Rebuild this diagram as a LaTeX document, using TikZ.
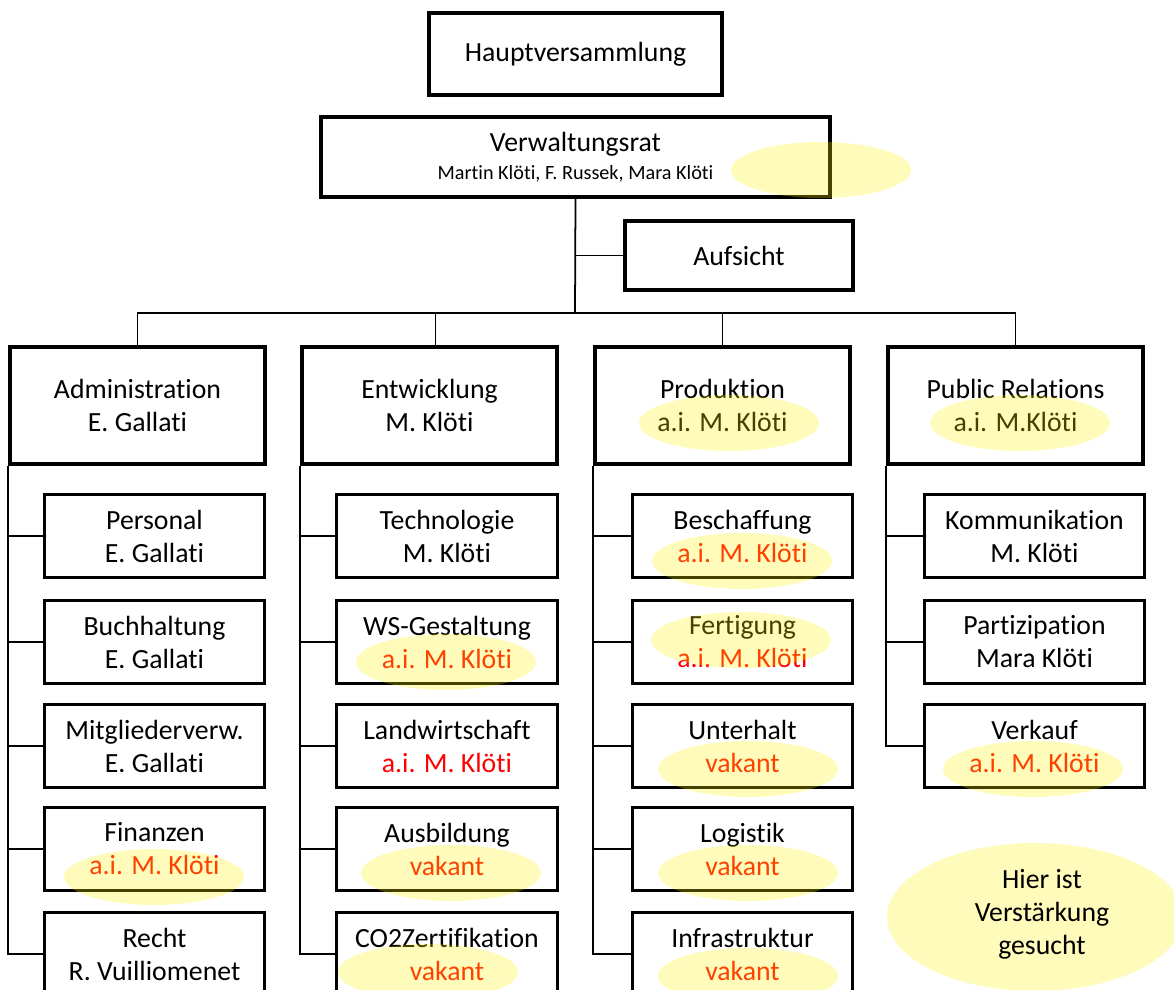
\documentclass[tikz,border=0pt]{standalone}
\usepackage{fontspec}
\setmainfont{Carlito}[Ligatures=NoCommon]
\usetikzlibrary{positioning,shapes.geometric,calc}

\begin{document}
\begin{tikzpicture}[
  x=0.02cm, y=-0.02cm,
  font=\fontsize{15.8}{18.8}\selectfont,
  board/.style={rectangle, draw=black, line width=2.2pt, align=center, inner sep=0pt},
  dept/.style={rectangle, draw=black, line width=2.2pt, minimum width=5.1cm, minimum height=2.34cm, align=center, inner sep=0pt},
  unit/.style={rectangle, draw=black, line width=1.7pt, minimum width=4.42cm, minimum height=1.66cm, align=center, inner sep=0pt},
  wire/.style={line width=1pt, black},
  hilite/.style={ellipse, fill=yellow, fill opacity=0.27, inner sep=0pt, minimum width=3.6cm, minimum height=1.12cm},
  open/.style={text=red}
]
\path[use as bounding box, clip] (0,0) rectangle (1174,990);

% Top
\node[board, minimum width=5.86cm, minimum height=1.64cm] (haupt) at (575.5,54) {Hauptversammlung};
\node[board, minimum width=10.18cm, minimum height=1.6cm] (vr) at (575.5,157)
  {Verwaltungsrat\\[-3pt]{\fontsize{11.5}{13}\selectfont Martin Klöti, F. Russek, Mara Klöti}};
\node[board, minimum width=4.56cm, minimum height=1.38cm] (aufsicht) at (739,255.5) {Aufsicht};

% Departments
\node[dept] (admin) at (137.5,405.5) {Administration\\E. Gallati};
\node[dept] (entw) at (429.5,405.5) {Entwicklung\\M. Klöti};
\node[dept] (prod) at (722.5,405.5) {Produktion\\a.i. M. Klöti};
\node[dept] (pr) at (1015.5,405.5) {Public Relations\\a.i. M.Klöti};

% Administration
\node[unit] (personal) at (154.5,536) {Personal\\E. Gallati};
\node[unit] (buch) at (154.5,642) {Buchhaltung\\E. Gallati};
\node[unit] (mitglied) at (154.5,746) {Mitgliederverw.\\E. Gallati};
\node[unit] (finanz) at (154.5,849) {Finanzen\\\textcolor{red}{a.i. M. Klöti}};
\node[unit] (recht) at (154.5,954) {Recht\\R. Vuilliomenet};

% Entwicklung
\node[unit] (tech) at (447,536) {Technologie\\M. Klöti};
\node[unit] (ws) at (447,642) {WS-Gestaltung\\\textcolor{red}{a.i. M. Klöti}};
\node[unit] (land) at (447,746) {Landwirtschaft\\\textcolor{red}{a.i. M. Klöti}};
\node[unit] (ausb) at (447,849) {Ausbildung\\\textcolor{red}{vakant}};
\node[unit] (co2) at (447,954) {CO2Zertifikation\\\textcolor{red}{vakant}};

% Produktion
\node[unit] (besch) at (742.5,536) {Beschaffung\\\textcolor{red}{a.i. M. Klöti}};
\node[unit] (fert) at (742.5,642) {Fertigung\\\textcolor{red}{a.i. M. Klöti}};
\node[unit] (unterh) at (742.5,746) {Unterhalt\\\textcolor{red}{vakant}};
\node[unit] (logi) at (742.5,849) {Logistik\\\textcolor{red}{vakant}};
\node[unit] (infra) at (742.5,954) {Infrastruktur\\\textcolor{red}{vakant}};

% Public Relations
\node[unit] (komm) at (1034.5,536) {Kommunikation\\M. Klöti};
\node[unit] (parti) at (1034.5,642) {Partizipation\\Mara Klöti};
\node[unit] (verk) at (1034.5,746) {Verkauf\\\textcolor{red}{a.i. M. Klöti}};

% Lines
\coordinate (bus) at (575,313);
\draw[wire] (vr.south) -- (bus);
\draw[wire] (vr.south |- aufsicht.west) -- (aufsicht.west);
\draw[wire] (admin.north) -- (admin.north |- bus) -- (pr.north |- bus) -- (pr.north);
\draw[wire] ($(entw.north)+(6,0)$) -- ($(entw.north |- bus)+(6,0)$);
\draw[wire] (prod.north) -- (prod.north |- bus);

\draw[wire] (admin.south west) |- (recht.west);
\draw[wire] (admin.south west |- personal.west) -- (personal.west);
\draw[wire] (admin.south west |- buch.west) -- (buch.west);
\draw[wire] (admin.south west |- mitglied.west) -- (mitglied.west);
\draw[wire] (admin.south west |- finanz.west) -- (finanz.west);

\draw[wire] (entw.south west) |- (co2.west);
\draw[wire] (entw.south west |- tech.west) -- (tech.west);
\draw[wire] (entw.south west |- ws.west) -- (ws.west);
\draw[wire] (entw.south west |- land.west) -- (land.west);
\draw[wire] (entw.south west |- ausb.west) -- (ausb.west);

\draw[wire] (prod.south west) |- (infra.west);
\draw[wire] (prod.south west |- besch.west) -- (besch.west);
\draw[wire] (prod.south west |- fert.west) -- (fert.west);
\draw[wire] (prod.south west |- unterh.west) -- (unterh.west);
\draw[wire] (prod.south west |- logi.west) -- (logi.west);

\draw[wire] (pr.south west) |- (verk.west);
\draw[wire] (pr.south west |- komm.west) -- (komm.west);
\draw[wire] (pr.south west |- parti.west) -- (parti.west);

% Highlights
\node[hilite] (hlVr) at (821,170) {};
\node[hilite] (hlProd) at (729,423) {};
\node[hilite] (hlPr) at (1020,423) {};
\node[hilite] (hlBesch) at (742,561) {};
\node[hilite] (hlFert) at (741,640) {};
\node[hilite] (hlWs) at (446,662) {};
\node[hilite] (hlFinanz) at (154,877) {};
\node[hilite] (hlAusb) at (451,873) {};
\node[hilite] (hlCo2) at (428,972) {};
\node[hilite] (hlUnterh) at (748,769) {};
\node[hilite] (hlLogi) at (748,873) {};
\node[hilite] (hlInfra) at (748,976) {};
\node[hilite] (hlVerk) at (1033,769) {};

\node[ellipse, fill=yellow!27, inner sep=0pt, minimum width=5.92cm, minimum height=2.96cm, align=center] (gesucht) at (1035,917) {};
\node[align=center] (gesuchtText) at (1042,914) {Hier ist\\Verstärkung\\gesucht};

\end{tikzpicture}
\end{document}
